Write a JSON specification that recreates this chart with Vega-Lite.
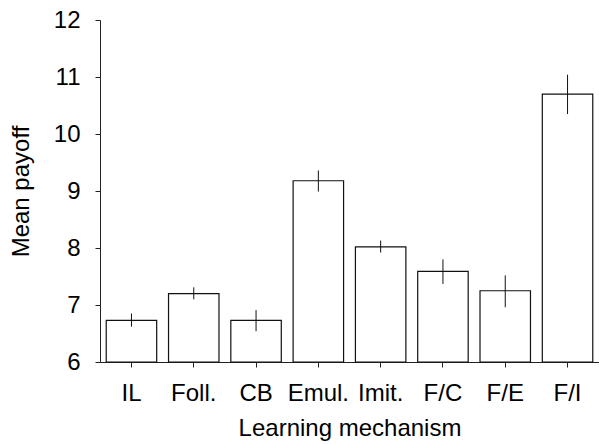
{
  "$schema": "https://vega.github.io/schema/vega-lite/v6.json",
  "autosize": {"type": "none"},
  "padding": {"left": 100, "top": 20, "right": 0, "bottom": 82},
  "width": 499,
  "height": 342,
  "background": "white",
  "config": {
    "view": {"stroke": null},
    "font": "Liberation Sans",
    "axis": {
      "grid": false,
      "domainColor": "#222222",
      "tickColor": "#222222",
      "labelColor": "#000000",
      "titleColor": "#000000",
      "labelFont": "Liberation Sans",
      "titleFont": "Liberation Sans",
      "labelFontSize": 24,
      "titleFontSize": 24,
      "titleFontWeight": "normal",
      "tickSize": 5,
      "domainWidth": 1,
      "tickWidth": 1
    }
  },
  "data": {
    "values": [
      {"mech": "IL", "mean": 6.73, "lo": 6.62, "hi": 6.85},
      {"mech": "Foll.", "mean": 7.20, "lo": 7.10, "hi": 7.31},
      {"mech": "CB", "mean": 6.73, "lo": 6.54, "hi": 6.91},
      {"mech": "Emul.", "mean": 9.18, "lo": 8.99, "hi": 9.36},
      {"mech": "Imit.", "mean": 8.02, "lo": 7.92, "hi": 8.13},
      {"mech": "F/C", "mean": 7.59, "lo": 7.37, "hi": 7.80},
      {"mech": "F/E", "mean": 7.25, "lo": 6.96, "hi": 7.52},
      {"mech": "F/I", "mean": 10.70, "lo": 10.35, "hi": 11.04}
    ]
  },
  "encoding": {
    "x": {
      "field": "mech",
      "type": "nominal",
      "sort": null,
      "title": "Learning mechanism",
      "scale": {"paddingInner": 0.19, "paddingOuter": 0.1},
      "axis": {"labelAngle": 0, "labelPadding": 14, "titlePadding": 11}
    }
  },
  "layer": [
    {
      "mark": {"type": "bar", "fill": "white", "stroke": "#111111", "strokeWidth": 1.2},
      "encoding": {
        "y": {
          "field": "mean",
          "type": "quantitative",
          "title": "Mean payoff",
          "scale": {"domain": [6, 12], "zero": false, "nice": false},
          "axis": {"values": [6, 7, 8, 9, 10, 11, 12], "format": "d", "labelPadding": 15, "titlePadding": 20}
        },
        "y2": {"datum": 6}
      }
    },
    {
      "mark": {"type": "rule", "color": "#111111", "strokeWidth": 1},
      "encoding": {
        "y": {"field": "lo", "type": "quantitative"},
        "y2": {"field": "hi"}
      }
    }
  ]
}
